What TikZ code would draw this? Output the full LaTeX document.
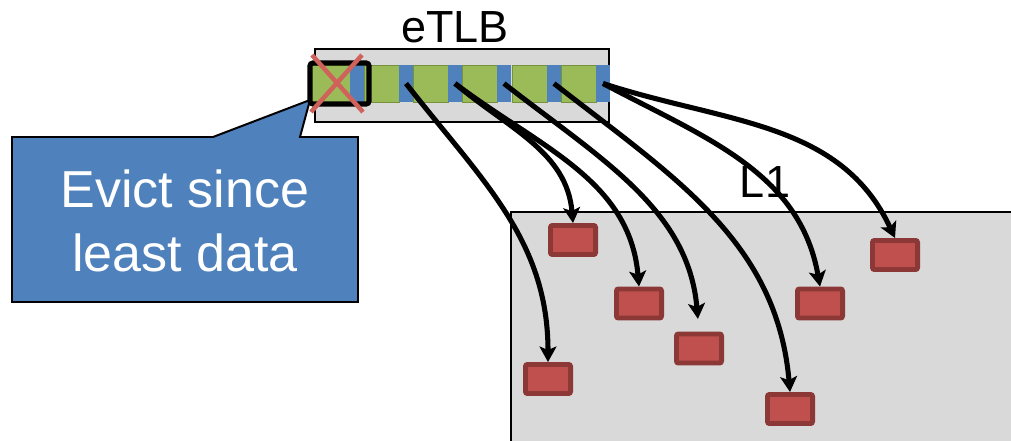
\documentclass[tikz,border=0pt]{standalone}
\usepackage{fontspec}
\setmainfont{Liberation Sans}
\usetikzlibrary{arrows.meta,positioning}
\definecolor{tlbblue}{RGB}{79,129,189}
\definecolor{tlbgreen}{RGB}{155,187,89}
\definecolor{grnedge}{RGB}{118,146,60}
\definecolor{boxgray}{RGB}{217,217,217}
\definecolor{blkred}{RGB}{192,80,77}
\definecolor{blkedge}{RGB}{140,56,54}
\definecolor{xred}{RGB}{208,98,92}
\tikzset{
  tagcell/.style={draw=grnedge,fill=tlbgreen,line width=0.5pt,minimum width=0.875cm,
    minimum height=0.925cm,inner sep=0pt},
  ptrcell/.style={fill=tlbblue,minimum width=0.35cm,minimum height=0.925cm,inner sep=0pt},
  blk/.style={draw=blkedge,fill=blkred,line width=3.4pt,rounded corners=1.5pt,
    minimum width=1.13cm,minimum height=0.73cm,inner sep=0pt},
  lbl/.style={font=\fontsize{32}{38}\selectfont,inner sep=0pt},
  note/.style={font=\fontsize{37}{46}\selectfont,text=white,align=center,inner sep=0pt},
  ptr/.style={-{Stealth[length=11pt,width=12pt,inset=2.5pt]},line width=3.6pt},
}

\begin{document}
\begin{tikzpicture}[x=0.025cm,y=0.025cm]
  \useasboundingbox (0,0) rectangle (1011,-440);
  % L1 cache area
  \draw[fill=boxgray,line width=1pt] (511,-212) rectangle (1015,-445);
  \node[lbl,anchor=base] (l1) at (765,-197) {L1};
  % red lines in L1
  \foreach \n/\x/\y in {b1/573/240,b2/639/303.5,b3/699/348.5,b4/548/379,
                        b5/790/409,b6/820/303.5,b7/895/255}
    \node[blk] (\n) at (\x,-\y) {};
  % eTLB with its entries
  \draw[fill=boxgray,line width=1pt] (315,-49) rectangle (609,-122);
  \node[lbl,anchor=base] (tlb) at (455,-43) {eTLB};
  \node[tagcell,minimum width=1cm] (t1) at (330,-83.5) {};
  \node[ptrcell] (p1) at (357,-83.5) {};
  \foreach \i/\x in {2/364,3/413,4/462,5/512,6/561} {
    \node[tagcell] (t\i) at (\x+17.5,-83.5) {};
    \node[ptrcell] (p\i) at (\x+42,-83.5) {};
  }
  % callout
  \draw[fill=tlbblue,line width=1.4pt] (12,-137) -- (213,-137) -- (310,-100)
    -- (300,-137) -- (358,-137) -- (358,-302) -- (12,-302) -- cycle;
  \node[note] (msg) at (185,-221) {Evict since\\least data};
  % victim entry
  \draw[line width=3.6pt,rounded corners=2pt] (310,-63) rectangle (369,-104);
  \draw[xred,line width=3.2pt] (312,-55) -- (363,-112) (362,-55) -- (311,-112);
  % pointers to lines
  \draw[ptr] (p2.center) to[out=-52,in=90] (b4.north);
  \draw[ptr] (p3.center) to[out=-40,in=95] (b1.north);
  \draw[ptr] (p3.center) to[out=-37,in=95] (b2.north);
  \draw[ptr,shorten >=9pt] (p4.center) to[out=-38,in=95] (b3.north);
  \draw[ptr] (p5.center) to[out=-38,in=95] (b5.north);
  \draw[ptr] (p6.center) to[out=-28,in=100] (b6.north);
  \draw[ptr] (p6.center) to[out=-18,in=115] (b7.north);
\end{tikzpicture}
\end{document}
